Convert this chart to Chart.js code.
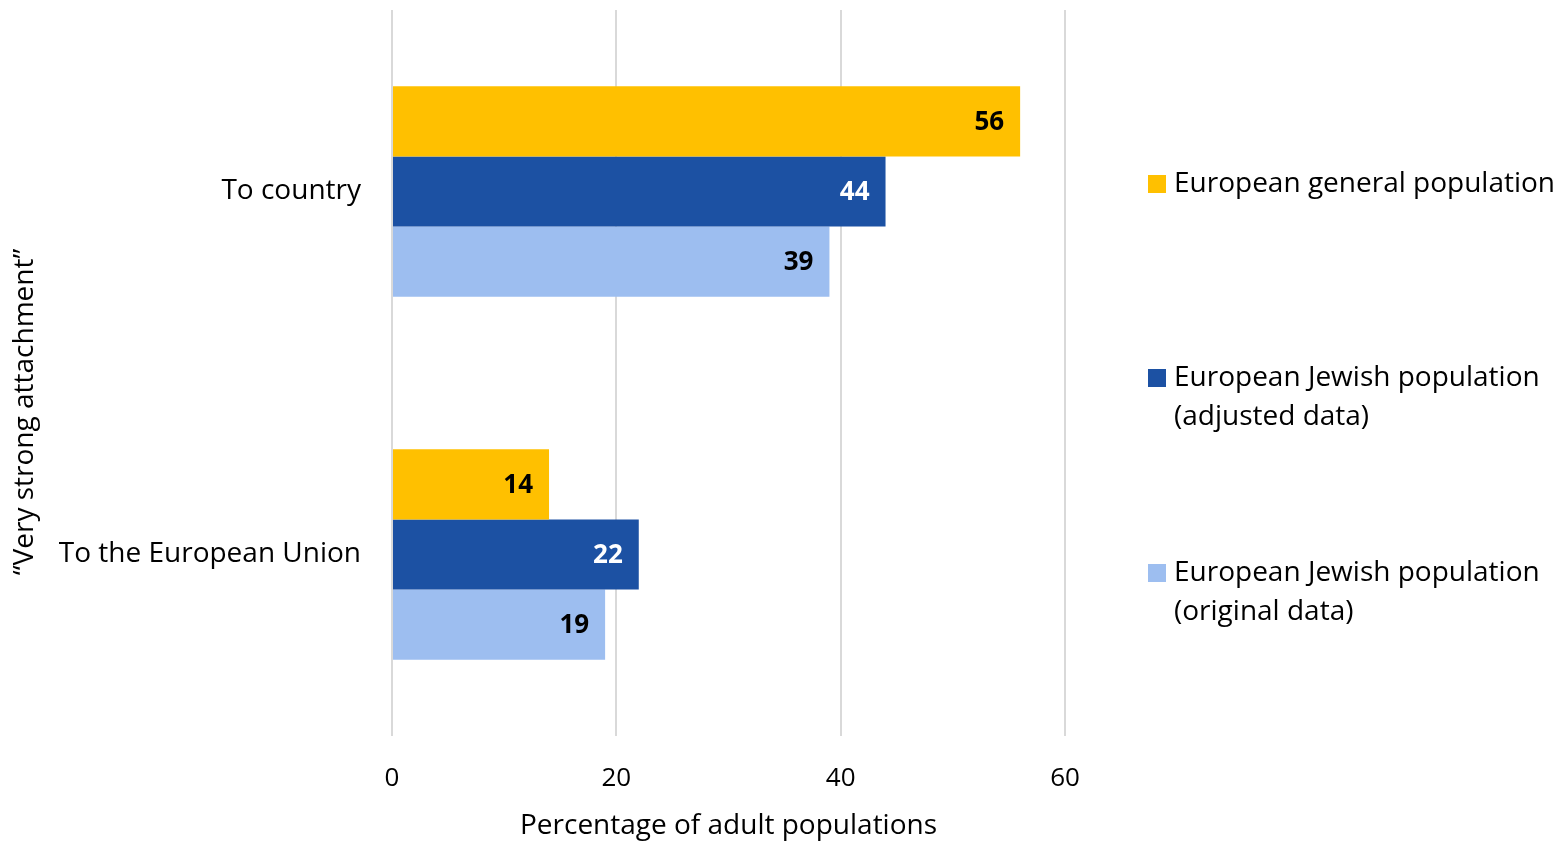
<!DOCTYPE html>
<html>
<head>
<meta charset="utf-8">
<script src="https://cdn.jsdelivr.net/npm/chart.js@4/dist/chart.umd.min.js"></script>
<style>
  html, body { margin: 0; padding: 0; background: #fff; }
  #wrap { width: 1557px; height: 841px; }
</style>
</head>
<body>
<div id="wrap"><canvas id="myChart"></canvas></div>
<script>
var categories = ["To country", "To the European Union"];
var seriesNames = [
  ["European general population"],
  ["European Jewish population", "(adjusted data)"],
  ["European Jewish population", "(original data)"]
];
var generalValues = [56, 14];
var adjustedValues = [44, 22];
var originalValues = [39, 19];
var xTicks = [0, 20, 40, 60];
var xTitle = "Percentage of adult populations";
var yTitle = "\u201cVery strong attachment\u201d";

var barColors = ["#FFC000", "#1C51A3", "#9DBEF0"];
var labelColors = ["#000", "#fff", "#000"];
var FONT = "'Open Sans', Lato, sans-serif";

// value labels inside bar ends, y title and the multi-line legend
var extras = {
  id: "extras",
  afterDatasetsDraw: function (chart) {
    var ctx = chart.ctx;
    ctx.save();
    ctx.font = "bold 26px " + FONT;
    ctx.textAlign = "right";
    ctx.textBaseline = "middle";
    chart.data.datasets.forEach(function (ds, i) {
      chart.getDatasetMeta(i).data.forEach(function (bar, j) {
        ctx.fillStyle = labelColors[i];
        ctx.fillText(ds.data[j], bar.x - 16, bar.y + 1);
      });
    });
    ctx.restore();
  },
  afterDraw: function (chart) {
    var ctx = chart.ctx;
    ctx.save();
    // y title
    ctx.font = "28px " + FONT;
    ctx.fillStyle = "#000";
    ctx.textAlign = "center";
    ctx.textBaseline = "middle";
    ctx.translate(25, 412);
    ctx.rotate(-Math.PI / 2);
    ctx.fillText(yTitle, 0, 0);
    ctx.restore();

    // legend
    ctx.save();
    ctx.font = "28px " + FONT;
    ctx.textAlign = "left";
    ctx.textBaseline = "middle";
    var tops = [184, 378, 573];
    seriesNames.forEach(function (lines, i) {
      ctx.fillStyle = barColors[i];
      ctx.fillRect(1148, tops[i] - 9, 18, 18);
      ctx.fillStyle = "#000";
      lines.forEach(function (t, k) {
        ctx.fillText(t, 1174, tops[i] + k * 39);
      });
    });
    ctx.restore();
  }
};

new Chart("myChart", {
  type: "bar",
  data: {
    labels: categories,
    datasets: [
      { label: seriesNames[0].join(" "), data: generalValues, backgroundColor: barColors[0] },
      { label: seriesNames[1].join(" "), data: adjustedValues, backgroundColor: barColors[1] },
      { label: seriesNames[2].join(" "), data: originalValues, backgroundColor: barColors[2] }
    ]
  },
  options: {
    indexAxis: "y",
    responsive: true,
    maintainAspectRatio: false,
    animation: false,
    layout: { padding: { top: 10, right: 492, left: 0, bottom: 0 } },
    datasets: {
      bar: { barPercentage: 1, categoryPercentage: 0.58 }
    },
    plugins: {
      legend: { display: false },
      tooltip: { enabled: false }
    },
    scales: {
      x: {
        min: 0,
        max: 60,
        afterBuildTicks: function (scale) {
          scale.ticks = xTicks.map(function (v) { return { value: v }; });
        },
        afterFit: function (scale) { scale.height = 105; },
        grid: { color: "#D9D9D9", lineWidth: 2, drawTicks: false },
        border: { display: false },
        ticks: { padding: 27, color: "#000", font: { family: FONT, size: 26 } },
        title: {
          display: true,
          text: xTitle,
          color: "#000",
          font: { family: FONT, size: 28 },
          padding: { top: 0, bottom: -2 }
        }
      },
      y: {
        afterFit: function (scale) {
          scale.width = 392;
          scale.paddingTop = 0;
          scale.paddingBottom = 0;
        },
        grid: { display: false, drawTicks: false },
        border: { display: false },
        ticks: { padding: 31, color: "#000", font: { family: FONT, size: 28 } }
      }
    }
  },
  plugins: [extras]
});
</script>
</body>
</html>
